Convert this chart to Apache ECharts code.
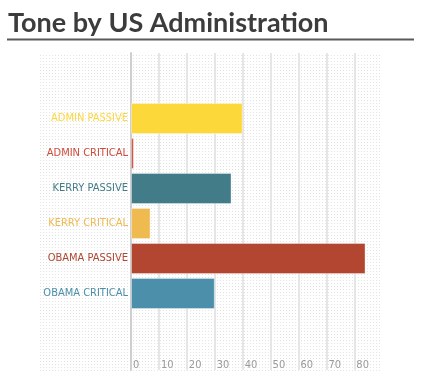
<!DOCTYPE html>
<html>
<head>
<meta charset="utf-8">
<script src="https://cdn.jsdelivr.net/npm/echarts@6/dist/echarts.min.js"></script>
<style>html,body{margin:0;padding:0;background:#fff}#c{width:422px;height:382px}</style>
</head>
<body>
<div id="c"></div>
<script>
const categories = ['ADMIN PASSIVE','ADMIN CRITICAL','KERRY PASSIVE','KERRY CRITICAL','OBAMA PASSIVE','OBAMA CRITICAL'];
const values = [40, 1, 36, 7, 84, 30];
const colors = ['#fdd83a','#cf4b3b','#427c89','#efba50','#b24630','#4c8fab'];
const tickValues = [0,10,20,30,40,50,60,70,80];

// dotted background pattern
const pc = document.createElement('canvas');
pc.width = 3; pc.height = 3;
const pctx = pc.getContext('2d');
pctx.fillStyle = '#ffffff'; pctx.fillRect(0,0,3,3);
pctx.fillStyle = '#e4e4e4'; pctx.fillRect(1,1,1,1);

const chart = echarts.init(document.getElementById('c'), null, {renderer:'canvas'});
const font = '"DejaVu Sans Condensed", sans-serif';
chart.setOption({
  animation:false,
  title:{text:'Tone by US Administration',left:3,top:5,
    textStyle:{fontFamily:'Lato, "Open Sans", sans-serif',fontWeight:'bold',fontSize:27,color:'#3c3c3c'}},
  graphic:[
    {type:'line',shape:{x1:7,y1:39.5,x2:414,y2:39.5},style:{stroke:'#5a5a5a',lineWidth:2},z:10},
    {type:'rect',shape:{x:40,y:54,width:342,height:317},style:{fill:{image:pc,repeat:'repeat'}},z:-10,zlevel:0,silent:true}
  ],
  grid:[
    {left:131,right:40,top:53,bottom:12},
    {left:131,right:40,top:101,height:210}
  ],
  xAxis:[
    {gridIndex:0,type:'value',min:0,max:89.9,interval:10,
      axisLine:{show:false},axisTick:{show:false,customValues:tickValues},
      splitLine:{show:true,lineStyle:{color:'#e6e6e6',width:2}},
      axisLabel:{inside:true,margin:-1,color:'#9a9a9a',fontSize:11,fontFamily:font,align:'left',padding:[0,0,0,2],
        customValues:tickValues}},
    {gridIndex:1,type:'value',min:0,max:89.9,show:false}
  ],
  yAxis:[
    {gridIndex:0,type:'value',min:0,max:1,axisLine:{show:true,lineStyle:{color:'#cfcfcf',width:2}},
      axisTick:{show:false},axisLabel:{show:false},splitLine:{show:false}},
    {gridIndex:1,type:'category',inverse:true,
      data:categories.map((c,i)=>({value:c,textStyle:{color:colors[i]}})),
      axisLine:{show:false},axisTick:{show:false},
      axisLabel:{margin:3,fontSize:11,fontFamily:font}}
  ],
  series:[{
    type:'bar',xAxisIndex:1,yAxisIndex:1,barWidth:31,
    data:values.map((v,i)=>({value:v,itemStyle:{color:colors[i],borderColor:'rgba(255,255,255,0.35)',borderWidth:1}}))
  }]
});
</script>
</body>
</html>
